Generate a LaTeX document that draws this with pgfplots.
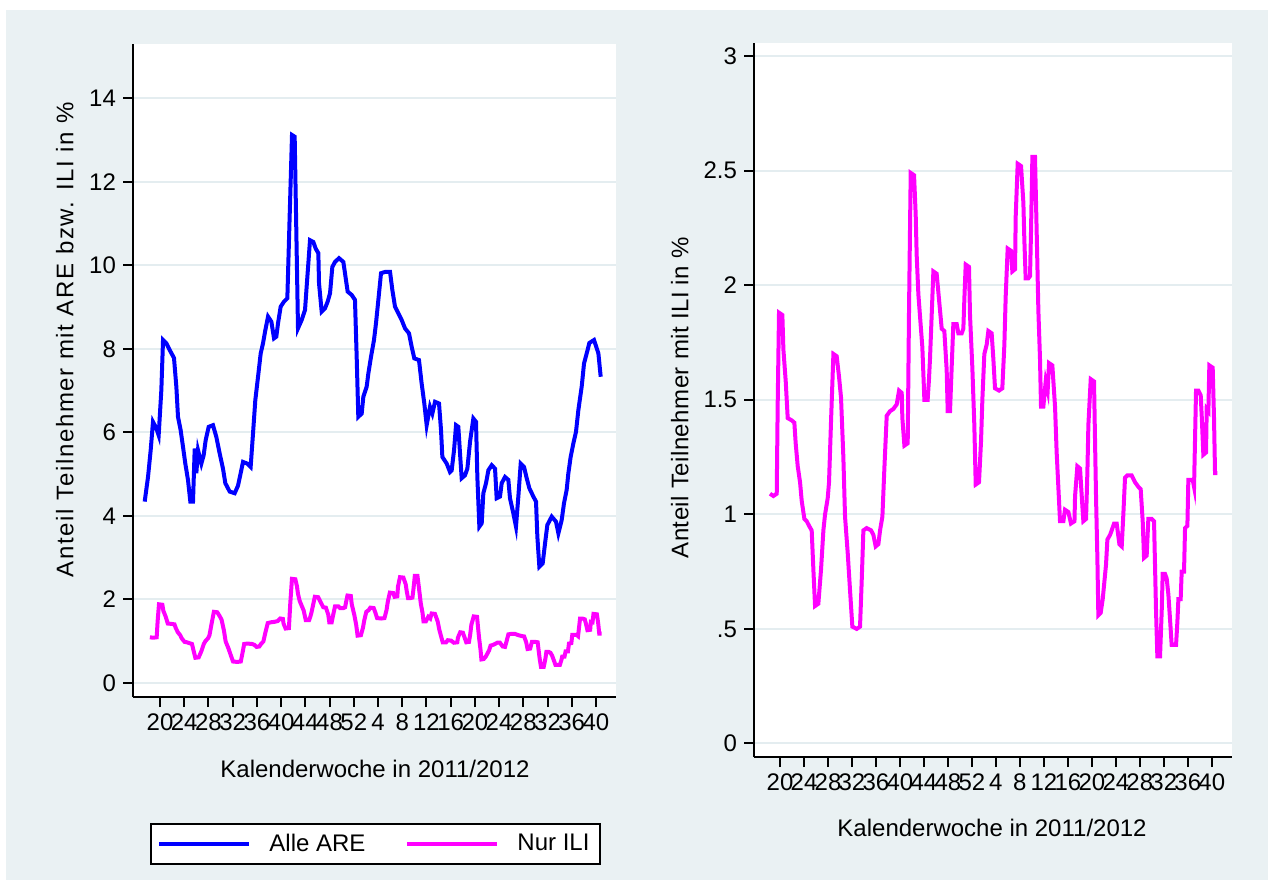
\documentclass[border=0pt]{standalone}
\usepackage{fontspec}
\setmainfont{Liberation Sans}
\newfontfamily\ylabfontA[LetterSpace=7]{Liberation Sans}
\newfontfamily\ylabfontB[LetterSpace=2]{Liberation Sans}
\usepackage{pgfplots}
\usepackage{pgfplotstable}
\pgfplotsset{compat=1.18}
\definecolor{bgc}{RGB}{234,241,243}
\definecolor{gridc}{RGB}{228,237,240}
\definecolor{areblue}{RGB}{0,0,255}
\definecolor{ilimag}{RGB}{255,0,255}

\pgfplotstableread{
w v
17.47 4.34
18.02 4.93
18.46 5.57
18.84 6.25
19.39 6.10
19.78 5.93
20.22 7.01
20.50 8.21
21.05 8.13
21.60 7.97
22.31 7.78
22.70 7.09
22.97 6.37
23.41 6.05
23.80 5.65
24.18 5.25
24.62 4.86
25.01 4.34
25.45 4.34
25.73 5.61
26.00 5.02
26.28 5.57
26.83 5.25
27.21 5.45
27.54 5.81
28.04 6.13
28.75 6.17
29.30 5.89
29.86 5.49
30.40 5.13
30.79 4.78
31.51 4.58
32.33 4.54
32.88 4.72
33.32 5.02
33.71 5.29
34.42 5.25
34.97 5.17
35.36 5.97
35.74 6.77
36.19 7.33
36.63 7.89
37.01 8.13
37.40 8.45
37.84 8.77
38.39 8.65
38.83 8.25
39.21 8.29
39.49 8.61
39.93 9.01
40.48 9.13
41.03 9.21
41.41 11.16
41.80 13.12
42.24 13.08
42.52 10.76
42.79 8.49
43.40 8.69
43.95 8.93
44.22 9.49
44.50 10.05
44.77 10.60
45.32 10.56
45.71 10.40
46.15 10.29
46.26 9.57
46.70 8.89
47.25 8.97
47.69 9.13
48.08 9.33
48.46 9.96
48.90 10.08
49.56 10.17
50.28 10.08
50.55 9.81
50.99 9.37
51.65 9.29
52.20 9.17
52.48 7.81
52.75 6.37
53.31 6.45
53.58 6.85
54.13 7.09
54.41 7.41
54.85 7.81
55.34 8.21
55.67 8.61
56.06 9.17
56.50 9.81
57.16 9.84
57.99 9.84
58.37 9.41
58.81 9.01
59.36 8.85
59.91 8.69
60.46 8.49
61.12 8.37
61.56 8.05
62.00 7.77
62.77 7.73
63.21 7.17
63.65 6.69
64.04 6.17
64.59 6.61
64.98 6.45
65.42 6.73
66.08 6.69
66.41 6.05
66.63 5.41
67.35 5.25
67.89 5.05
68.17 5.09
68.56 5.57
68.89 6.17
69.27 6.13
69.55 5.49
69.82 4.90
70.37 4.97
70.76 5.13
71.20 5.77
71.75 6.33
72.19 6.25
72.41 4.93
72.74 3.74
73.13 3.82
73.40 4.54
73.84 4.78
74.23 5.09
74.78 5.21
75.33 5.13
75.60 4.42
76.15 4.46
76.43 4.78
76.98 4.93
77.53 4.86
77.80 4.42
78.35 4.06
78.79 3.74
79.18 4.46
79.57 5.25
80.12 5.17
80.56 4.90
81.00 4.66
81.66 4.46
82.10 4.34
82.32 3.50
82.65 2.78
83.20 2.86
83.59 3.34
83.97 3.78
84.69 3.98
85.40 3.86
85.79 3.58
86.34 3.90
86.72 4.30
87.16 4.62
87.44 5.02
87.82 5.41
88.26 5.73
88.70 6.01
89.09 6.53
89.64 7.09
90.03 7.65
90.47 7.89
90.91 8.14
91.68 8.21
92.40 7.89
92.78 7.33
}\aredata

\pgfplotstableread{
w v
18.33 1.09
18.89 1.08
19.45 1.09
19.61 1.48
19.83 1.88
20.39 1.87
20.56 1.72
20.95 1.58
21.28 1.42
21.95 1.41
22.39 1.40
22.61 1.31
22.95 1.21
23.34 1.14
23.61 1.06
24.06 0.98
24.45 0.97
24.84 0.95
25.28 0.93
25.56 0.76
25.84 0.60
26.39 0.61
26.84 0.76
27.23 0.93
27.51 1.00
27.95 1.07
28.17 1.14
28.51 1.41
28.90 1.70
29.45 1.69
29.84 1.60
30.17 1.51
30.56 1.25
30.84 0.99
31.29 0.83
31.67 0.67
32.06 0.51
32.79 0.50
33.34 0.51
33.62 0.71
33.90 0.93
34.45 0.94
35.18 0.93
35.57 0.91
35.95 0.86
36.40 0.87
36.68 0.93
37.07 0.99
37.40 1.20
37.79 1.43
38.34 1.45
38.90 1.46
39.46 1.48
39.85 1.54
40.29 1.53
40.40 1.42
40.74 1.30
41.29 1.31
41.51 1.89
41.79 2.49
42.35 2.48
42.62 2.31
42.79 2.13
43.07 1.96
43.73 1.73
44.07 1.50
44.62 1.50
44.84 1.59
45.01 1.68
45.29 1.87
45.57 2.06
46.12 2.05
46.40 1.97
46.68 1.89
46.96 1.81
47.40 1.80
47.79 1.63
47.96 1.45
48.35 1.45
48.62 1.64
48.90 1.83
49.46 1.83
49.74 1.79
50.29 1.79
50.57 1.81
50.74 1.94
50.96 2.09
51.51 2.08
51.68 1.87
52.07 1.64
52.40 1.39
52.63 1.13
53.18 1.14
53.52 1.32
53.74 1.50
54.07 1.70
54.46 1.74
54.74 1.80
55.29 1.79
55.57 1.68
55.85 1.55
56.52 1.54
57.07 1.55
57.41 1.74
57.63 1.95
57.96 2.16
58.52 2.15
58.74 2.06
59.19 2.07
59.30 2.30
59.63 2.53
60.19 2.52
60.58 2.36
60.74 2.20
60.96 2.03
61.41 2.03
61.69 2.04
61.85 2.23
62.08 2.56
62.52 2.56
62.80 2.23
63.08 1.89
63.35 1.68
63.52 1.47
63.91 1.47
64.30 1.58
64.63 1.54
64.86 1.66
65.41 1.65
65.86 1.47
66.13 1.27
66.41 1.12
66.69 0.97
67.25 0.97
67.52 1.02
68.08 1.01
68.52 0.96
69.10 0.97
69.20 1.08
69.58 1.21
70.03 1.20
70.31 1.08
70.58 0.97
71.03 0.98
71.25 1.18
71.42 1.39
71.81 1.59
72.36 1.58
72.53 1.32
72.70 1.07
72.92 0.81
73.08 0.56
73.47 0.57
73.81 0.63
74.03 0.69
74.36 0.78
74.59 0.89
75.03 0.91
75.31 0.93
75.70 0.96
76.14 0.96
76.59 0.87
76.98 0.86
77.25 1.00
77.53 1.16
77.92 1.17
78.64 1.17
79.20 1.14
79.76 1.12
80.14 1.11
80.48 0.97
80.70 0.81
81.14 0.82
81.42 0.98
81.98 0.98
82.37 0.97
82.53 0.78
82.70 0.58
82.92 0.38
83.37 0.38
83.65 0.58
83.81 0.74
84.20 0.74
84.48 0.72
84.76 0.65
85.04 0.54
85.31 0.43
86.04 0.43
86.26 0.53
86.43 0.63
86.81 0.63
86.98 0.75
87.37 0.75
87.54 0.94
87.93 0.95
88.09 1.15
88.82 1.15
89.04 1.12
89.20 1.32
89.37 1.54
89.76 1.54
90.15 1.52
90.32 1.43
90.59 1.26
91.04 1.27
91.15 1.46
91.43 1.45
91.59 1.65
92.15 1.64
92.37 1.42
92.54 1.18
92.93 1.18
}\ilidata

\pgfplotsset{
  stata/.style={
    scale only axis,
    axis x line*=bottom,
    axis y line*=left,
    axis line style={line width=1pt, black, -},
    tick align=outside,
    major tick length=5pt,
    every tick/.style={black, line width=1pt},
    xtick={20,24,...,92},
    xticklabels={20,24,28,32,36,40,44,48,52,4,8,12,16,20,24,28,32,36,40},
    ymajorgrids,
    major grid style={gridc, line width=1pt},
    axis background/.style={fill=white},
    tick label style={font=\fontsize{12}{14}\selectfont},
    label style={font=\fontsize{12}{14}\selectfont},
    /pgf/number format/assume math mode=true,
    xlabel={Kalenderwoche in 2011/2012},
  }
}

\begin{document}
\begin{tikzpicture}
\fill[white] (0pt,0pt) rectangle (637pt,-443pt);
\fill[bgc] (3pt,-5pt) rectangle (634pt,-440pt);

\begin{axis}[stata,
  at={(66.5pt,-348.5pt)}, anchor=south west,
  width=241.5pt, height=326.5pt,
  xmin=15.54, xmax=95.31, ymin=-0.34, ymax=15.30,
  ytick={0,2,...,14},
  ylabel={\ylabfontA Anteil Teilnehmer mit ARE bzw. ILI in \%},
  xlabel style={at={(axis description cs:0.501,-0.124)}, anchor=base},
  ylabel style={at={(axis description cs:-0.141,0.547)}, anchor=center, rotate=0},
  legend columns=2,
  legend style={at={(0.502,-0.225)}, anchor=center, draw=black, line width=1pt, fill=white,
    inner ysep=3pt,
    font=\fontsize{12}{14}\selectfont,
    /tikz/every odd column/.append style={column sep=7pt},
    /tikz/every even column/.append style={column sep=18pt}},
  legend image code/.code={\draw[#1] (0pt,0pt) -- (45pt,0pt);},
]
\addplot[areblue, line width=2pt, line join=miter] table[x=w,y=v] {\aredata};
\addplot[ilimag, line width=2pt, line join=miter] table[x=w,y=v] {\ilidata};
\legend{Alle ARE, Nur ILI}
\end{axis}

\begin{axis}[stata,
  at={(377pt,-378.5pt)}, anchor=south west,
  width=239pt, height=357pt,
  xmin=15.66, xmax=95.37, ymin=-0.059, ymax=3.057,
  ytick={0,0.5,1,1.5,2,2.5,3},
  yticklabels={0,.5,1,1.5,2,2.5,3},
  ylabel={\ylabfontB Anteil Teilnehmer mit ILI in \%},
  xlabel style={at={(axis description cs:0.498,-0.112)}, anchor=base},
  ylabel style={at={(axis description cs:-0.155,0.503)}, anchor=center, rotate=0},
]
\addplot[ilimag, line width=2pt, line join=miter] table[x=w,y=v] {\ilidata};
\end{axis}
\end{tikzpicture}
\end{document}
